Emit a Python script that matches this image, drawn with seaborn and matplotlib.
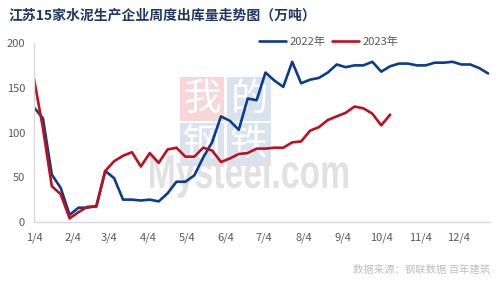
import matplotlib
matplotlib.use("Agg")
import numpy as np
import pandas as pd
import seaborn as sns
import matplotlib.pyplot as plt
from matplotlib.patches import Rectangle, PathPatch
from matplotlib.textpath import TextPath
from matplotlib.font_manager import FontProperties
from matplotlib.transforms import Affine2D
from matplotlib.lines import Line2D

# ---------------- data ----------------
title = "江苏15家水泥生产企业周度出库量走势图（万吨）"
footer = "数据来源：钢联数据 百年建筑"
series_names = ["2022年", "2023年"]

values_2022 = [128, 116, 53, 38, 8, 16, 16, 18, 57, 49,
               25, 25, 24, 25, 23, 32, 45, 45, 52, 72,
               89, 118, 113, 103, 138, 136, 167, 158, 151, 179,
               155, 159, 161, 167, 176, 173, 175, 175, 179, 168,
               174, 177, 177, 175, 175, 178, 178, 179, 176, 176,
               172, 166]
values_2023 = [160, 105, 40, 31, 4, 11, 17, 17, 57, 68,
               74, 78, 62, 77, 66, 81, 83, 73, 73, 83,
               80, 67, 71, 76, 77, 82, 82, 83, 83, 89,
               90, 102, 106, 114, 118, 122, 129, 127, 121, 108,
               120]
# days counted from Jan 4 (weekly data)
week_step_days = 7
tick_days = [0, 31, 59, 90, 120, 151, 181, 212, 243, 273, 304, 334]
tick_labels = ["1/4", "2/4", "3/4", "4/4", "5/4", "6/4", "7/4", "8/4",
               "9/4", "10/4", "11/4", "12/4"]
y_ticks = [0, 50, 100, 150, 200]

blue = "#0B3D8E"
red = "#C00F1F"

# ---------------- style ----------------
sns.set_theme(style="white")
plt.rcParams["font.family"] = ["Noto Sans CJK SC", "DejaVu Sans"]

W, H = 499, 282
fig = plt.figure(figsize=(W / 100, H / 100), dpi=100)
ax = fig.add_axes([34 / W, 1 - 222 / H, 456 / W, 179 / H])

# ---------------- watermark ----------------
def px_rect(x0, y0, x1, y1, color):
    r = Rectangle((x0 / W, 1 - y1 / H), (x1 - x0) / W, (y1 - y0) / H,
                  transform=fig.transFigure, facecolor=color, edgecolor="none",
                  zorder=0.5, clip_on=False)
    ax.add_patch(r)

squares = [("我", 180, 77, 224, 121, "#F8D5D8"),
           ("的", 227, 77, 271, 121, "#D9E3F0"),
           ("钢", 180, 123, 224, 166, "#D9E3F0"),
           ("铁", 227, 123, 271, 166, "#D9E3F0")]
for ch, x0, y0, x1, y1, col in squares:
    px_rect(x0, y0, x1, y1, col)
    ax.text((x0 + x1) / 2 / W, 1 - (y0 + y1) / 2 / H, ch, transform=fig.transFigure,
            ha="center", va="center", fontsize=27, color="white", zorder=0.6)

fp = FontProperties(family="Liberation Sans", weight="bold")
tp = TextPath((0, 0), "Mysteel.com", size=1, prop=fp)
ext = tp.get_extents()
cap = TextPath((0, 0), "M", size=1, prop=fp).get_extents().y1
sx = 198 / ext.width
sy = 33 / cap
tx = 150 - ext.x0 * sx
ty = H - 188
tr = Affine2D().scale(sx / 100, sy / 100).translate(tx / 100, ty / 100) + fig.dpi_scale_trans
ax.add_patch(PathPatch(tp, transform=tr, facecolor="#E1E1E1", edgecolor="none",
                       zorder=0.55, clip_on=False))

# ---------------- lines ----------------
rows = []
for name, vals in zip(series_names, [values_2022, values_2023]):
    for i, v in enumerate(vals):
        rows.append({"day": i * week_step_days, "value": v, "year": name})
df = pd.DataFrame(rows)

sns.lineplot(data=df, x="day", y="value", hue="year", hue_order=series_names,
             palette={series_names[0]: blue, series_names[1]: red},
             linewidth=1.9, ax=ax, legend=False, sort=False)

ax.set_xlim(0, 358.5)
ax.set_ylim(0, 200)
ax.set_xticks(tick_days)
ax.set_xticklabels(tick_labels)
ax.set_yticks(y_ticks)
ax.set_xlabel("")
ax.set_ylabel("")
ax.set_facecolor("none")
for s in ["top", "right"]:
    ax.spines[s].set_visible(False)
for s in ["left", "bottom"]:
    ax.spines[s].set_color("#D9D9D9")
    ax.spines[s].set_linewidth(1)
ax.tick_params(axis="both", length=4, width=1, color="#D9D9D9",
               labelcolor="#595959", labelsize=8)
ax.tick_params(axis="x", pad=3.5)
ax.tick_params(axis="y", pad=2.5)

# ---------------- texts ----------------
fig.text(8 / W, 1 - 15.5 / H, title, ha="left", va="center", fontsize=10,
         fontweight="bold", color="#1F3864")
fig.text(490 / W, 1 - 270 / H, footer, ha="right", va="center", fontsize=7.5,
         color="#BFBFBF")

handles = [Line2D([], [], color=blue, lw=1.9), Line2D([], [], color=red, lw=1.9)]
fig.legend(handles, series_names, loc="center left",
           bbox_to_anchor=(259 / W, 1 - 42 / H), ncol=2, frameon=False,
           fontsize=8, handlelength=2.4, handletextpad=0.35, columnspacing=0.6,
           borderpad=0, borderaxespad=0, labelcolor="#595959")

fig.savefig("out.png", dpi=100)
